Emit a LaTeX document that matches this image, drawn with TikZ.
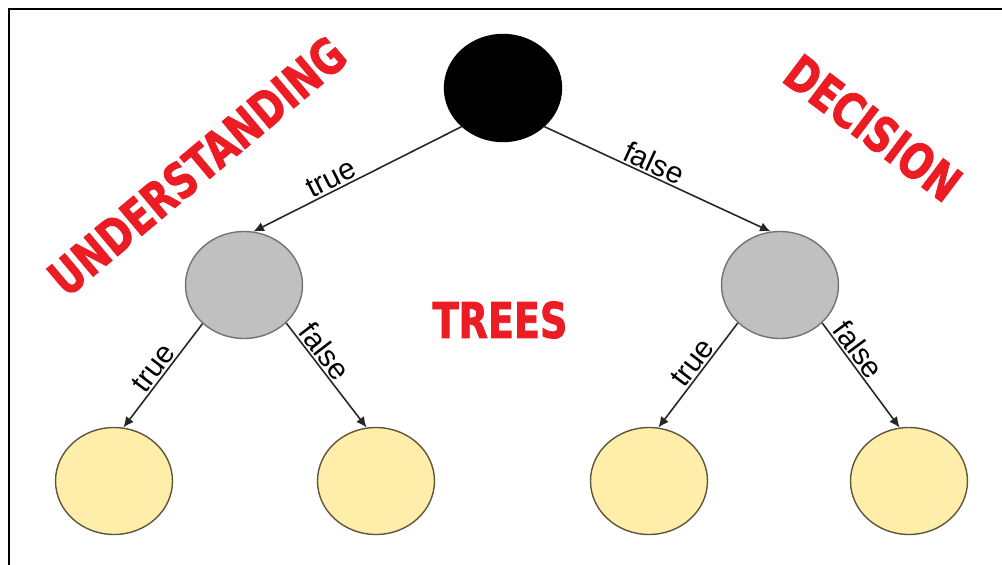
\documentclass[tikz,border=0pt]{standalone}
\usepackage{fontspec}
\setmainfont{Liberation Sans}
\newfontfamily\bannerfont{DejaVu Sans Condensed}[FakeStretch=0.86, FakeBold=1.6]
\usetikzlibrary{shapes.geometric,arrows.meta}
\definecolor{bannerred}{RGB}{236,28,36}
\definecolor{splitgray}{RGB}{192,192,192}
\definecolor{leafyellow}{RGB}{255,238,170}
\definecolor{leafline}{RGB}{95,85,60}

\begin{document}
\begin{tikzpicture}[x=0.02cm,y=-0.02cm,
  tnode/.style={ellipse, draw, line width=0.8pt, minimum width=2.34cm, minimum height=2.14cm, inner sep=0pt},
  branch/.style={draw=black!85, line width=0.9pt, -{Latex[length=6pt,width=5.5pt]}},
  cond/.style={font=\fontsize{17}{17}\selectfont, sloped, above, inner sep=1pt},
  banner/.style={text=bannerred, font=\bannerfont\bfseries\fontsize{28}{28}\selectfont, inner sep=0pt}]
\useasboundingbox (0,0) rectangle (1002,565);
% outer frame
\draw[line width=1.2pt] (9,565) -- (9,9) -- (1002,9);

% Create nodes for the tree
\node[tnode, fill=black, draw=black] (root) at (503,88) {};
\node[tnode, fill=splitgray, draw=black!55] (gl) at (244,285) {};
\node[tnode, fill=splitgray, draw=black!55] (gr) at (780,285) {};
\node[tnode, fill=leafyellow, draw=leafline] (ll) at (114,481) {};
\node[tnode, fill=leafyellow, draw=leafline] (lm) at (376,481) {};
\node[tnode, fill=leafyellow, draw=leafline] (rm) at (649,481) {};
\node[tnode, fill=leafyellow, draw=leafline] (rr) at (909,481) {};

% Add connections
\draw[branch] (root.223) -- node[cond, pos=0.6] {true} (gl.80);
\draw[branch] (root.317) -- node[cond, pos=0.46] {false} (gr.100);
\draw[branch] (gl.223) -- node[cond, pos=0.5] {true} (ll.80);
\draw[branch] (gl.318) -- node[cond, pos=0.35] {false} (lm.100);
\draw[branch] (gr.222) -- node[cond, pos=0.45] {true} (rm.80);
\draw[branch] (gr.318) -- node[cond, pos=0.33] {false} (rr.100);

% Title words
\node[banner, rotate=40] (wunder) at (197,166) {UNDERSTANDING};
\node[banner, rotate=-37] (wdecis) at (873,128) {DECISION};
\node[banner] (wtrees) at (500,320) {TREES};
\end{tikzpicture}
\end{document}
